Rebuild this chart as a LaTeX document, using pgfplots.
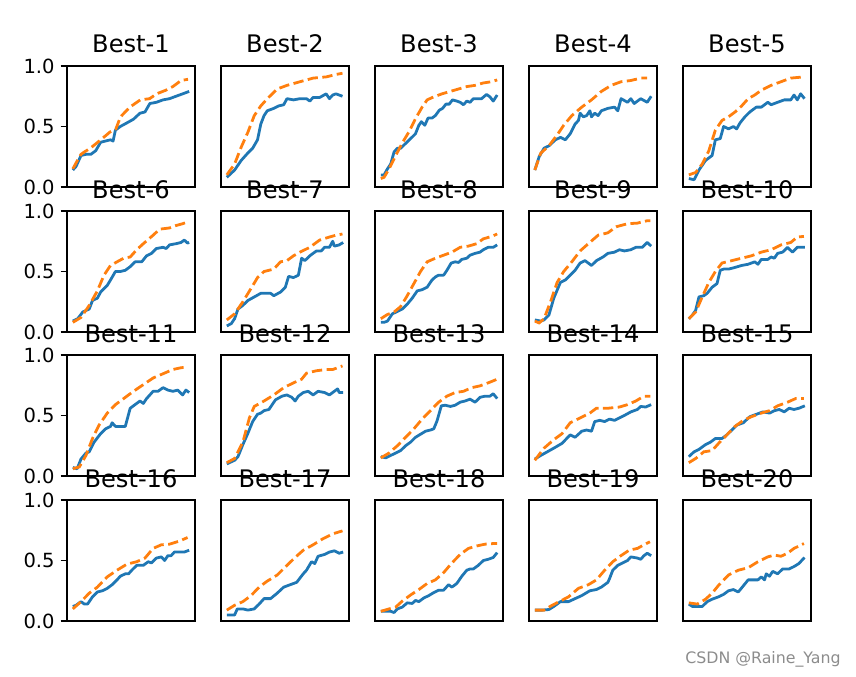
\documentclass[border=0pt]{standalone}
\usepackage{fontspec}
\setmainfont{DejaVu Sans}
\usepackage{pgfplots}
\pgfplotsset{compat=1.18}
\definecolor{mplblue}{RGB}{31,119,180}
\definecolor{mplorange}{RGB}{255,127,14}
\pgfplotsset{
  every axis title/.style={at={(0.5,1)}, anchor=base, yshift=7pt, inner sep=0pt, font=\fontsize{13}{15}\selectfont},
  panel/.style={
    width=68.90pt, height=65.13pt, scale only axis, anchor=south west,
    xmin=-5, xmax=105, ymin=0, ymax=1,
    xtick=\empty, ytick=\empty,
    axis line style={line width=0.8pt, black},
  },
  ylab/.style={
    ytick={0,0.5,1}, yticklabels={0.0,0.5,1.0}, ytick pos=left,
    tick align=outside, major tick length=3.5pt,
    ytick style={line width=0.8pt, black},
    yticklabel style={font=\fontsize{10.5}{12}\selectfont, inner sep=3pt},
  },
  bl/.style={mplblue, line width=1.5pt, line join=round, no marks},
  or/.style={mplorange, line width=1.5pt, dash pattern=on 5.55pt off 2.4pt, no marks},
}
\newcommand{\panel}[6]{%
  \begin{axis}[panel, #1, at={(#2)}, title={#3}]
    \addplot[bl] coordinates {#4};
    \addplot[or] coordinates {#5};
  \end{axis}}
\begin{document}
\begin{tikzpicture}
\path[use as bounding box] (0,0) rectangle (460.78pt,-363.89pt);
% Row 1
\panel{ylab}{36.07pt,-100.66pt}{Best-1}
{(0,0.14)(2.8,0.17)(7,0.26)(11.3,0.27)(15.5,0.27)(19.7,0.30)(23.9,0.37)(28.2,0.38)(32.4,0.39)(34.6,0.38)(36.6,0.47)(40.8,0.50)(46.5,0.53)(52.1,0.56)(57.7,0.61)(62,0.62)(66.2,0.69)(71.8,0.70)(77.5,0.72)(83.1,0.73)(88.7,0.75)(94.4,0.77)(100,0.79)}
{(0,0.15)(4,0.22)(7,0.27)(10,0.29)(15,0.32)(24,0.39)(32,0.455)(37,0.48)(41,0.58)(49,0.66)(58,0.72)(66,0.73)(72,0.77)(80,0.80)(86,0.83)(93,0.88)(99,0.89)}{}
\panel{}{118.96pt,-100.66pt}{Best-2}
{(0,0.08)(6.7,0.14)(12.4,0.22)(18,0.28)(22.2,0.32)(26.4,0.39)(29.2,0.52)(32,0.59)(34.8,0.63)(40.4,0.65)(44.6,0.67)(48.9,0.68)(51.7,0.73)(57.3,0.72)(62.9,0.73)(68.5,0.73)(71.3,0.71)(74.2,0.74)(79.8,0.74)(85.4,0.77)(88.2,0.73)(91,0.76)(93.8,0.77)(99.4,0.75)}
{(0,0.10)(6.7,0.19)(12.4,0.33)(18,0.45)(23.6,0.59)(29.2,0.67)(34.8,0.73)(43.3,0.81)(51.7,0.84)(62.9,0.87)(74.2,0.90)(85.4,0.91)(93.8,0.93)(99.4,0.94)}{}
\panel{}{201.86pt,-100.66pt}{Best-3}
{(0,0.10)(2.8,0.10)(5.7,0.15)(8.5,0.19)(11.4,0.29)(14.2,0.32)(17,0.32)(21.3,0.36)(25.6,0.40)(29.8,0.44)(32.7,0.51)(34.9,0.54)(37.8,0.51)(40.6,0.57)(44,0.57)(46.9,0.59)(50.3,0.635)(53.1,0.65)(56,0.685)(58.8,0.685)(61.6,0.72)(65.3,0.71)(68.2,0.70)(71,0.68)(73.9,0.71)(76.7,0.70)(79.5,0.73)(83.8,0.73)(86.6,0.73)(90.9,0.765)(93.8,0.745)(96.6,0.71)(100,0.76)}
{(0,0.07)(2.8,0.08)(7.1,0.15)(12.8,0.26)(18.5,0.365)(24.1,0.455)(29.8,0.565)(35.5,0.66)(39.8,0.72)(45.5,0.745)(52.6,0.77)(59.7,0.79)(66.8,0.81)(73.9,0.83)(81,0.84)(88.1,0.86)(95.2,0.87)(100,0.885)}{}
\panel{}{284.76pt,-100.66pt}{Best-4}
{(0,0.14)(3.7,0.25)(7.9,0.32)(12.1,0.34)(17.7,0.39)(22,0.41)(26.2,0.39)(30.4,0.44)(34.6,0.52)(37.5,0.55)(38.9,0.61)(41.7,0.58)(44.5,0.59)(47.3,0.63)(48.7,0.58)(51.5,0.61)(54.4,0.59)(57.2,0.63)(62.8,0.65)(68.5,0.66)(71.3,0.63)(74.1,0.73)(79.7,0.70)(82.5,0.73)(85.4,0.69)(91,0.73)(96.6,0.70)(100,0.75)}
{(0,0.14)(5.1,0.28)(12.1,0.34)(19.2,0.43)(24.8,0.51)(31.8,0.59)(40.3,0.66)(48.7,0.72)(57.2,0.79)(65.6,0.84)(74.1,0.87)(82.5,0.88)(91,0.90)(96.6,0.90)}{}
\panel{}{367.66pt,-100.66pt}{Best-5}
{(0,0.07)(4.5,0.06)(8.7,0.14)(14.4,0.22)(20,0.26)(22.8,0.39)(27,0.40)(29.9,0.50)(34.1,0.48)(38.3,0.50)(41.1,0.48)(44,0.53)(48.2,0.58)(52.4,0.62)(58,0.66)(62.3,0.66)(66.5,0.69)(67.9,0.70)(70.7,0.68)(76.3,0.70)(82,0.72)(87.6,0.72)(90.4,0.76)(93.2,0.72)(96.1,0.77)(99.4,0.73)}
{(0,0.10)(5.9,0.12)(11.5,0.19)(17.2,0.30)(22.8,0.47)(28.5,0.55)(34.1,0.58)(39.7,0.62)(45.4,0.67)(51,0.73)(56.6,0.76)(62.3,0.80)(70.7,0.84)(79.2,0.87)(87.6,0.90)(98.9,0.91)}{}
% Row 2
\panel{ylab}{36.07pt,-178.72pt}{Best-6}
{(0,0.09)(4.2,0.11)(8.5,0.165)(14.1,0.19)(16.9,0.26)(21.1,0.28)(23.9,0.33)(29.6,0.385)(32.4,0.43)(36.6,0.50)(40.8,0.50)(45.1,0.51)(49.3,0.54)(53.5,0.58)(59.2,0.58)(63.4,0.63)(67.6,0.65)(71.8,0.69)(77.5,0.70)(80.3,0.69)(83.1,0.72)(88.7,0.73)(93,0.74)(95.8,0.76)(98.6,0.735)(100,0.74)}
{(0,0.08)(7,0.12)(14.1,0.22)(21.1,0.34)(26.8,0.47)(32.4,0.55)(38,0.58)(43.7,0.61)(49.3,0.62)(54.9,0.68)(60.6,0.73)(69,0.80)(74.6,0.85)(83.1,0.86)(88.7,0.88)(94.4,0.895)(98.6,0.91)}{}
\panel{}{118.96pt,-178.72pt}{Best-7}
{(0,0.05)(3.9,0.07)(6.7,0.11)(9.6,0.19)(13.8,0.22)(18,0.26)(23.6,0.29)(29.2,0.32)(37.6,0.32)(40.4,0.30)(46.1,0.33)(50.3,0.37)(53.1,0.46)(57.3,0.45)(61.5,0.47)(64.3,0.61)(67.1,0.59)(71.3,0.63)(77,0.67)(81.2,0.67)(84,0.70)(88.2,0.70)(91,0.75)(92.4,0.71)(96.6,0.72)(100,0.74)}
{(0,0.10)(6.7,0.15)(13.8,0.25)(20.8,0.36)(26.4,0.45)(32,0.50)(40.4,0.52)(46.1,0.58)(51.7,0.59)(57.3,0.63)(62.9,0.66)(71.3,0.70)(79.8,0.76)(88.2,0.785)(93.8,0.80)(99.4,0.81)}{}
\panel{}{201.86pt,-178.72pt}{Best-8}
{(0,0.08)(2.8,0.08)(5.7,0.09)(9.9,0.15)(14.2,0.17)(18.5,0.19)(22.7,0.23)(27,0.28)(31.3,0.34)(35.5,0.35)(39.8,0.37)(44,0.43)(46.9,0.455)(49.7,0.47)(54,0.47)(56.8,0.51)(60.5,0.57)(63.9,0.58)(66.8,0.575)(69.6,0.60)(73.9,0.61)(76.7,0.635)(81,0.65)(85.2,0.66)(88.1,0.68)(92.3,0.70)(96.6,0.70)(100,0.72)}
{(0,0.11)(5.7,0.145)(11.4,0.165)(17,0.21)(22.7,0.30)(28.4,0.40)(34.1,0.50)(39.8,0.58)(46.9,0.61)(54,0.635)(61.1,0.66)(68.2,0.70)(75.3,0.71)(82.4,0.73)(88.1,0.77)(95.2,0.79)(100,0.81)}{}
\panel{}{284.76pt,-178.72pt}{Best-9}
{(0,0.10)(5.1,0.09)(7.9,0.10)(12.1,0.14)(16.3,0.28)(22,0.41)(26.2,0.43)(30.4,0.47)(34.6,0.51)(38.9,0.57)(43.1,0.59)(48.7,0.55)(53,0.59)(58.6,0.62)(62.8,0.65)(68.5,0.66)(72.7,0.68)(76.9,0.67)(82.5,0.68)(86.8,0.70)(92.4,0.70)(96.6,0.74)(100,0.71)}
{(0,0.09)(3.7,0.075)(7.9,0.11)(13.5,0.25)(19.2,0.41)(24.8,0.50)(31.8,0.58)(38.9,0.67)(46,0.73)(54.4,0.80)(62.8,0.82)(69.9,0.87)(79.7,0.895)(88.2,0.90)(96.6,0.92)(99.4,0.92)}{}
\panel{}{367.66pt,-178.72pt}{Best-10}
{(0,0.11)(3.1,0.14)(5.9,0.18)(8.7,0.29)(12.9,0.30)(15.8,0.32)(20,0.37)(24.2,0.40)(27,0.51)(29.9,0.52)(34.1,0.52)(38.3,0.53)(45.4,0.55)(51,0.56)(56.6,0.58)(59.4,0.56)(62.3,0.60)(67.9,0.60)(70.7,0.62)(73.5,0.61)(76.3,0.65)(80.6,0.66)(84.8,0.70)(89,0.66)(93.2,0.70)(96.1,0.70)(99.7,0.70)}
{(0,0.11)(5.9,0.165)(11.5,0.29)(17.2,0.41)(22.8,0.50)(28.5,0.57)(36.9,0.59)(45.4,0.61)(53.8,0.63)(62.3,0.66)(70.7,0.68)(79.2,0.72)(87.6,0.74)(93.2,0.785)(98.9,0.79)}{}
% Row 3
\panel{ylab}{36.07pt,-256.23pt}{Best-11}
{(0,0.07)(3.7,0.06)(7,0.14)(11.3,0.19)(14.1,0.20)(18.3,0.28)(23.9,0.35)(28.2,0.39)(32.4,0.41)(33.8,0.44)(36.6,0.41)(40.8,0.41)(45.1,0.41)(49.3,0.56)(53.5,0.59)(57.7,0.62)(60.6,0.60)(63.4,0.64)(69,0.70)(73.2,0.70)(77.5,0.73)(81.7,0.71)(85.9,0.70)(90.1,0.71)(94.4,0.67)(97.2,0.71)(100,0.69)}
{(0,0.06)(5.6,0.075)(11.3,0.17)(16.9,0.31)(22.5,0.42)(29.6,0.52)(36.6,0.59)(43.7,0.64)(52.1,0.70)(60.6,0.755)(69,0.81)(77.5,0.845)(85.9,0.88)(93,0.895)(98.6,0.90)}{}
\panel{}{118.96pt,-256.23pt}{Best-12}
{(0,0.10)(6.7,0.13)(9.6,0.16)(13.8,0.26)(18,0.35)(22.2,0.45)(26.4,0.51)(29.2,0.52)(32,0.54)(36.2,0.55)(39,0.59)(41.9,0.63)(47.5,0.66)(51.7,0.67)(55.9,0.65)(58.7,0.62)(61.5,0.66)(65.7,0.69)(69.9,0.70)(74.2,0.67)(78.4,0.70)(84,0.69)(88.2,0.67)(93.8,0.71)(95.2,0.72)(96.6,0.69)(100,0.69)}
{(0,0.11)(6.7,0.145)(13.8,0.28)(19.4,0.48)(23.6,0.575)(32,0.62)(40.4,0.67)(48.9,0.73)(57.3,0.77)(64.3,0.80)(68.5,0.85)(77,0.87)(85.4,0.88)(91,0.88)(99.4,0.91)}{}
\panel{}{201.86pt,-256.23pt}{Best-13}
{(0,0.16)(4.3,0.15)(8.5,0.17)(12.8,0.19)(17,0.21)(21.3,0.25)(25.6,0.28)(29.8,0.32)(34.1,0.345)(38.4,0.37)(42.6,0.38)(45.5,0.39)(48.3,0.455)(52,0.58)(55.4,0.585)(59.7,0.575)(63.9,0.585)(68.2,0.61)(72.4,0.62)(76.7,0.635)(81,0.61)(85.2,0.65)(89.5,0.66)(93.8,0.66)(96.6,0.68)(100,0.64)}
{(0,0.15)(7.1,0.19)(14.2,0.25)(21.3,0.32)(28.4,0.39)(35.5,0.47)(42.6,0.54)(49.7,0.61)(56.8,0.66)(63.9,0.69)(71,0.70)(78.1,0.73)(85.2,0.745)(92.3,0.77)(100,0.80)}{}
\panel{}{284.76pt,-256.23pt}{Best-14}
{(0,0.14)(5.1,0.17)(10.7,0.20)(16.3,0.23)(23.4,0.27)(30.4,0.34)(34.6,0.32)(40.3,0.37)(44.5,0.38)(48.7,0.37)(51.5,0.45)(55.8,0.46)(60,0.45)(64.2,0.47)(68.5,0.46)(72.7,0.48)(76.9,0.50)(82.5,0.53)(88.2,0.55)(91,0.575)(95.2,0.57)(100,0.59)}
{(0,0.13)(7.9,0.23)(16.3,0.30)(23.4,0.35)(30.4,0.44)(38.9,0.48)(47.3,0.52)(52.9,0.56)(62.8,0.56)(72.7,0.57)(79.7,0.59)(86.8,0.62)(93.8,0.66)(99.4,0.66)}{}
\panel{}{367.66pt,-256.23pt}{Best-15}
{(0,0.16)(4.5,0.20)(8.7,0.22)(14.4,0.26)(18.6,0.28)(22.8,0.31)(28.5,0.31)(32.7,0.34)(36.9,0.38)(41.1,0.42)(46.8,0.44)(52.4,0.49)(58,0.51)(63.7,0.53)(69.3,0.52)(73.5,0.54)(77.7,0.55)(82,0.53)(86.2,0.56)(90.4,0.55)(94.6,0.56)(99.7,0.58)}
{(0,0.11)(5.9,0.145)(12.9,0.20)(20,0.21)(25.6,0.27)(32.7,0.34)(39.7,0.41)(46.8,0.46)(53.8,0.49)(62.3,0.52)(69.3,0.54)(76.3,0.58)(84.8,0.61)(91.8,0.64)(98.9,0.64)}{}
% Row 4
\panel{ylab}{36.07pt,-334.28pt}{Best-16}
{(0,0.12)(2.8,0.13)(7,0.16)(9.9,0.14)(12.7,0.14)(16.9,0.20)(21.1,0.24)(25.4,0.25)(29.6,0.27)(33.8,0.30)(38,0.34)(40.8,0.37)(45.1,0.39)(47.9,0.39)(50.7,0.42)(54.9,0.46)(60.6,0.46)(64.8,0.49)(67.6,0.48)(71.8,0.52)(76.1,0.53)(78.9,0.50)(81.7,0.54)(84.5,0.54)(87.3,0.57)(91.5,0.57)(95.8,0.57)(100,0.585)}
{(0,0.10)(7,0.16)(14.1,0.23)(21.1,0.28)(29.6,0.365)(38,0.42)(46.5,0.47)(54.9,0.49)(62,0.52)(69,0.60)(76.1,0.63)(83.1,0.635)(91.5,0.66)(98.6,0.69)}{}
\panel{}{118.96pt,-334.28pt}{Best-17}
{(0,0.05)(6.7,0.05)(9,0.10)(13.8,0.10)(18,0.09)(23.6,0.10)(27.8,0.14)(32,0.185)(37.6,0.185)(43.3,0.23)(48.9,0.28)(54.5,0.30)(60.1,0.32)(65.7,0.39)(68.5,0.42)(72.8,0.49)(75.6,0.475)(78.4,0.535)(84,0.55)(88.2,0.57)(92.4,0.58)(96.6,0.56)(100,0.57)}
{(0,0.09)(6.7,0.13)(13.8,0.16)(20.8,0.21)(27.8,0.28)(34.8,0.33)(43.3,0.38)(51.7,0.46)(58.7,0.525)(65.7,0.585)(74.2,0.63)(82.6,0.68)(91,0.72)(99.4,0.745)}{}
\panel{}{201.86pt,-334.28pt}{Best-18}
{(0,0.08)(4.3,0.08)(8.5,0.08)(11.4,0.07)(14.2,0.10)(18.5,0.115)(22.7,0.15)(27,0.145)(29.8,0.17)(32.7,0.16)(36.9,0.19)(41.2,0.21)(45.5,0.235)(49.7,0.255)(54,0.255)(58.2,0.30)(61.1,0.28)(65.3,0.31)(69.6,0.37)(73.9,0.42)(76.7,0.43)(79.5,0.43)(83.8,0.46)(88.1,0.50)(92.3,0.51)(96.6,0.525)(100,0.565)}
{(0,0.08)(7.1,0.10)(12.8,0.115)(18.5,0.165)(25.6,0.215)(32.7,0.26)(39.8,0.31)(46.9,0.34)(54,0.40)(61.1,0.48)(68.2,0.55)(75.3,0.60)(82.4,0.62)(89.5,0.635)(96.6,0.64)(100,0.64)}{}
\panel{}{284.76pt,-334.28pt}{Best-19}
{(0,0.09)(6.5,0.09)(12.1,0.095)(16.3,0.12)(22,0.16)(29,0.16)(34.6,0.185)(40.3,0.21)(47.3,0.25)(52.9,0.26)(57.2,0.28)(62.8,0.32)(64.2,0.35)(67,0.42)(71.3,0.46)(75.5,0.48)(79.7,0.50)(82.5,0.53)(88.2,0.52)(91,0.51)(93.8,0.54)(96.6,0.56)(100,0.54)}
{(0,0.09)(7.9,0.09)(14.9,0.13)(22,0.165)(29,0.20)(37.5,0.27)(46,0.30)(53,0.34)(60,0.42)(67,0.49)(74,0.54)(81,0.585)(88.2,0.60)(93.8,0.63)(98.9,0.655)}{}
\panel{}{367.66pt,-334.28pt}{Best-20}
{(0,0.14)(3.1,0.12)(7.3,0.12)(11.5,0.12)(15.8,0.16)(20,0.18)(25.6,0.20)(29.9,0.22)(34.1,0.25)(38.3,0.26)(42.5,0.24)(46.8,0.29)(51,0.34)(59.4,0.34)(62.3,0.365)(65.1,0.34)(66.5,0.39)(69.3,0.37)(72.1,0.41)(76.3,0.39)(80.6,0.43)(86.2,0.43)(90.4,0.45)(94.6,0.475)(99.4,0.525)}
{(0,0.15)(7.3,0.14)(14.4,0.18)(20,0.23)(25.6,0.295)(34.1,0.38)(42.5,0.42)(51,0.44)(59.4,0.49)(67.9,0.53)(73.5,0.545)(79.2,0.535)(84.8,0.56)(90.4,0.60)(98.9,0.64)}{}
\node[anchor=base east, inner sep=0pt, text=black!45, font=\fontsize{8.5}{10}\selectfont] at (452.7pt,-356.9pt) {CSDN @Raine\_Yang};
\end{tikzpicture}
\end{document}
